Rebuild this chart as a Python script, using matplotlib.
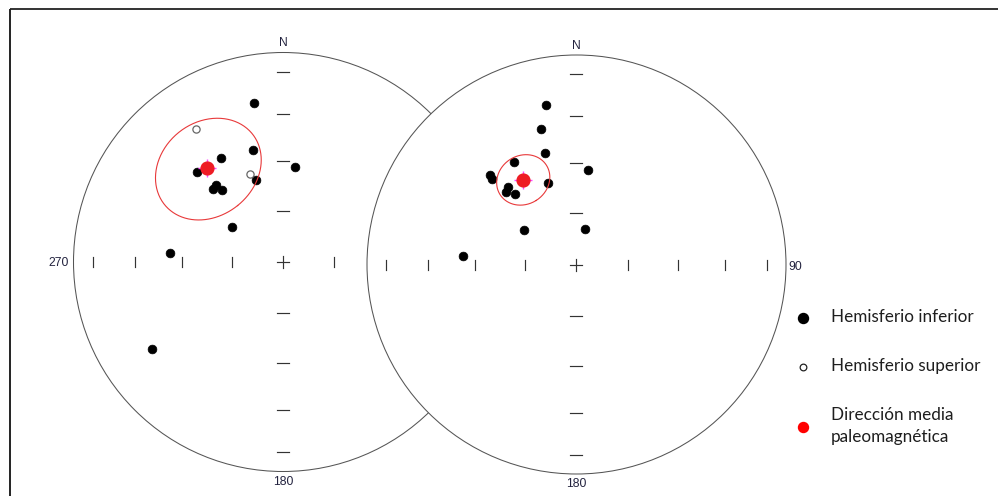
import numpy as np
import matplotlib
matplotlib.use('Agg')
import matplotlib.pyplot as plt
from matplotlib.patches import Circle
from matplotlib.transforms import Affine2D

# ---------------- data (declination, inclination in degrees) ----------------
# negative inclination = upper hemisphere (open symbol)
left_dec = [349.7, 326.9, 345.0, 329.1, 316.5, 339.3, 341.8, 7.5, 319.0, 316.2, 319.7, 304.8, 274.8, 236.6]
left_inc = [23.7, -25.0, 43.8, 41.9, 40.3, -53.0, 56.2, 52.4, 49.7, 50.1, 53.1, 65.9, 45.0, 25.9]
left_mean_dec, left_mean_inc, left_a95 = 321.2, 41.7, 20.0

right_dec = [349.3, 345.5, 344.4, 328.7, 7.1, 315.9, 315.2, 341.0, 318.5, 315.6, 318.9, 303.8, 13.0, 274.4]
right_inc = [23.7, 33.4, 43.9, 42.0, 52.6, 40.4, 42.0, 56.1, 49.3, 50.1, 53.0, 65.6, 75.9, 44.7]
right_mean_dec, right_mean_inc, right_a95 = 327.8, 50.4, 10.0

tick_incs = [10, 30, 50, 70]
legend_labels = ['Hemisferio inferior', 'Hemisferio superior', 'Dirección media\npaleomagnética']

# ---------------- helpers ----------------
def proj(dec, inc):
    d = np.radians(np.asarray(dec, float))
    r = np.sqrt(2) * np.sin(np.radians(90 - np.abs(np.asarray(inc, float))) / 2)
    return r * np.sin(d), r * np.cos(d)

def cone(dec, inc, a95, n=361):
    d, i, a = np.radians(dec), np.radians(inc), np.radians(a95)
    m = np.array([np.cos(i) * np.cos(d), np.cos(i) * np.sin(d), np.sin(i)])
    u = np.array([-np.sin(i) * np.cos(d), -np.sin(i) * np.sin(d), np.cos(i)])
    v = np.array([-np.sin(d), np.cos(d), 0.0])
    t = np.linspace(0, 2 * np.pi, n)
    p = np.cos(a) * m[:, None] + np.sin(a) * (np.cos(t)[None, :] * u[:, None] + np.sin(t)[None, :] * v[:, None])
    pd = np.degrees(np.arctan2(p[1], p[0]))
    pi = np.degrees(np.arcsin(np.clip(p[2], -1, 1)))
    return proj(pd, pi)

W, H = 998, 496
fig = plt.figure(figsize=(W / 100, H / 100), dpi=100)
ax = fig.add_axes([0, 0, 1, 1])
ax.set_xlim(0, W)
ax.set_ylim(H, 0)
ax.axis('off')

label_kw = dict(family='Liberation Sans', fontsize=8.7, color='#23233f')

def draw_net(cx, cy, R, decs, incs, mdec, minc, a95, z, show270, show90):
    T = Affine2D().scale(R, -R).translate(cx, cy) + ax.transData
    ax.add_patch(Circle((0, 0), 1, facecolor='white', edgecolor='#555555', lw=0.75, transform=T, zorder=z))
    rt = np.sqrt(2) * np.sin(np.radians(90 - np.array(tick_incs)) / 2)
    hd = 6.0 / R   # dash half-length
    hv = 5.0 / R   # vertical tick half-length
    for r in rt:
        for s in (1, -1):
            ax.plot([-hd, hd], [s * r, s * r], color='#333333', lw=0.85, transform=T, zorder=z + 1)
            ax.plot([s * r, s * r], [-hv, hv], color='#333333', lw=0.85, transform=T, zorder=z + 1)
    hc = 6.0 / R
    ax.plot([-hc, hc], [0, 0], color='#333333', lw=0.85, transform=T, zorder=z + 1)
    ax.plot([0, 0], [-hc, hc], color='#333333', lw=0.85, transform=T, zorder=z + 1)
    # labels
    ax.text(0, 1.043, 'N', ha='center', va='center', transform=T, zorder=z + 1, **label_kw)
    ax.text(0, -1.05, '180', ha='center', va='center', transform=T, zorder=z + 1, **label_kw)
    if show270:
        ax.text(-1.02, -0.005, '270', ha='right', va='center', transform=T, zorder=z + 1, **label_kw)
    if show90:
        ax.text(1.01, -0.012, '90', ha='left', va='center', transform=T, zorder=z + 1, **label_kw)
    # data
    decs = np.array(decs); incs = np.array(incs)
    x, y = proj(decs, incs)
    low = incs >= 0
    ax.plot(x[low], y[low], 'o', ms=6.3, mfc='black', mec='black', mew=0.5, transform=T, zorder=z + 2)
    if (~low).any():
        ax.plot(x[~low], y[~low], 'o', ms=5.2, mfc='white', mec='#666666', mew=0.9, transform=T, zorder=z + 2)
    ex, ey = cone(mdec, minc, a95)
    ax.plot(ex, ey, color='#e8393a', lw=0.8, transform=T, zorder=z + 3)
    mx, my = proj([mdec], [minc])
    ax.plot(mx, my, '+', ms=13, mew=1.0, color='#ff44ff', transform=T, zorder=z + 3)
    ax.plot(mx, my, 'o', ms=9.2, mfc='#ee1c24', mec='#ee1c24', transform=T, zorder=z + 4)

draw_net(283.0, 262.0, 209.5, left_dec, left_inc, left_mean_dec, left_mean_inc, left_a95, 1, True, False)
draw_net(576.5, 264.5, 209.5, right_dec, right_inc, right_mean_dec, right_mean_inc, right_a95, 10, False, True)

# frame lines (top and left)
ax.plot([10.5, W], [9, 9], color='#333333', lw=1.4, zorder=30, solid_capstyle='butt')
ax.plot([10.5, 10.5], [9, H], color='#222222', lw=1.4, zorder=30, solid_capstyle='butt')

# legend
leg_kw = dict(family='Lato', fontsize=12.3, color='#1e1e1e', ha='left', va='center', zorder=30)
ax.plot([803], [317.7], 'o', ms=7.2, color='black', zorder=30)
ax.text(831, 317.0, legend_labels[0], **leg_kw)
ax.plot([803], [367.3], 'o', ms=4.8, mfc='white', mec='#222222', mew=0.9, zorder=30)
ax.text(831, 366.5, legend_labels[1], **leg_kw)
ax.plot([803], [427.3], 'o', ms=7.2, color='#ff0000', zorder=30)
ax.text(831, 426.0, legend_labels[2], linespacing=1.45, **leg_kw)

fig.savefig('out.png', dpi=100)
